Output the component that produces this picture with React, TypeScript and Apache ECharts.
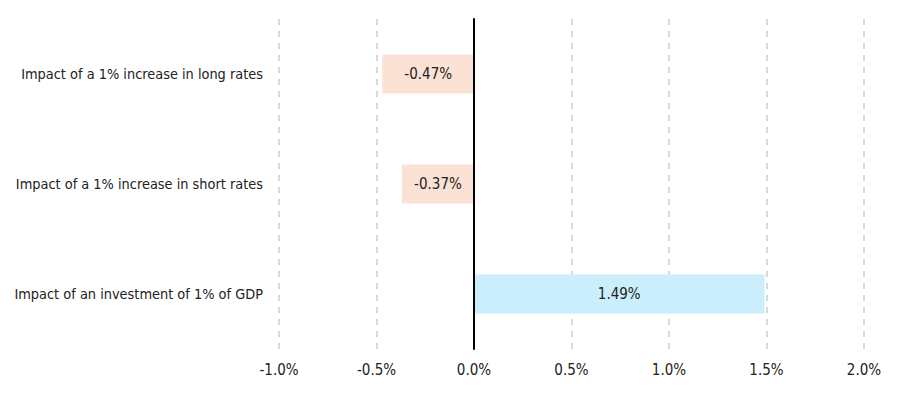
import React, { useEffect, useRef } from "react";
import * as echarts from "echarts";

const categories = [
  "Impact of an investment of 1% of GDP",
  "Impact of a 1% increase in short rates",
  "Impact of a 1% increase in long rates",
];
const values = [1.49, -0.37, -0.47];
const barColors = ["#CAEEFB", "#FBE2D5", "#FBE2D5"];
const xTicks = { min: -1.0, max: 2.0, interval: 0.5 };

const FONT = "'DejaVu Sans Condensed', 'Liberation Sans', Arial, sans-serif";

export default function App() {
  const ref = useRef<HTMLDivElement>(null);
  useEffect(() => {
    if (!ref.current) return;
    const chart = echarts.init(ref.current, null, { renderer: "svg" });
    chart.setOption({
      animation: false,
      grid: { left: 279, right: 36, top: 19, bottom: 44, containLabel: false },
      xAxis: {
        type: "value",
        min: xTicks.min,
        max: xTicks.max,
        interval: xTicks.interval,
        axisLine: { show: false },
        axisTick: { show: false },
        axisLabel: {
          formatter: (v: number) => v.toFixed(1) + "%",
          color: "#222",
          fontFamily: FONT,
          fontSize: 15,
          margin: 13,
        },
        splitLine: {
          show: true,
          lineStyle: { color: "#D9D9D9", width: 2, type: [6, 6] },
        },
      },
      yAxis: {
        type: "category",
        data: categories,
        axisLine: { show: true, onZero: true, lineStyle: { color: "#000", width: 2 } },
        axisTick: { show: false },
        axisLabel: {
          color: "#222",
          fontFamily: FONT,
          fontSize: 14.4,
          margin: 16,
        },
        splitLine: { show: false },
        z: 10,
      },
      series: [
        {
          type: "bar",
          barWidth: 39,
          data: values.map((v, i) => ({ value: v, itemStyle: { color: barColors[i] } })),
          label: {
            show: true,
            position: "inside",
            color: "#222",
            fontFamily: FONT,
            fontSize: 15,
            formatter: (p: any) => p.value.toFixed(2) + "%",
          },
        },
      ],
    });
    return () => chart.dispose();
  }, []);
  return <div ref={ref} style={{ width: 900, height: 393, position: "absolute", left: 0, top: 0 }} />;
}
